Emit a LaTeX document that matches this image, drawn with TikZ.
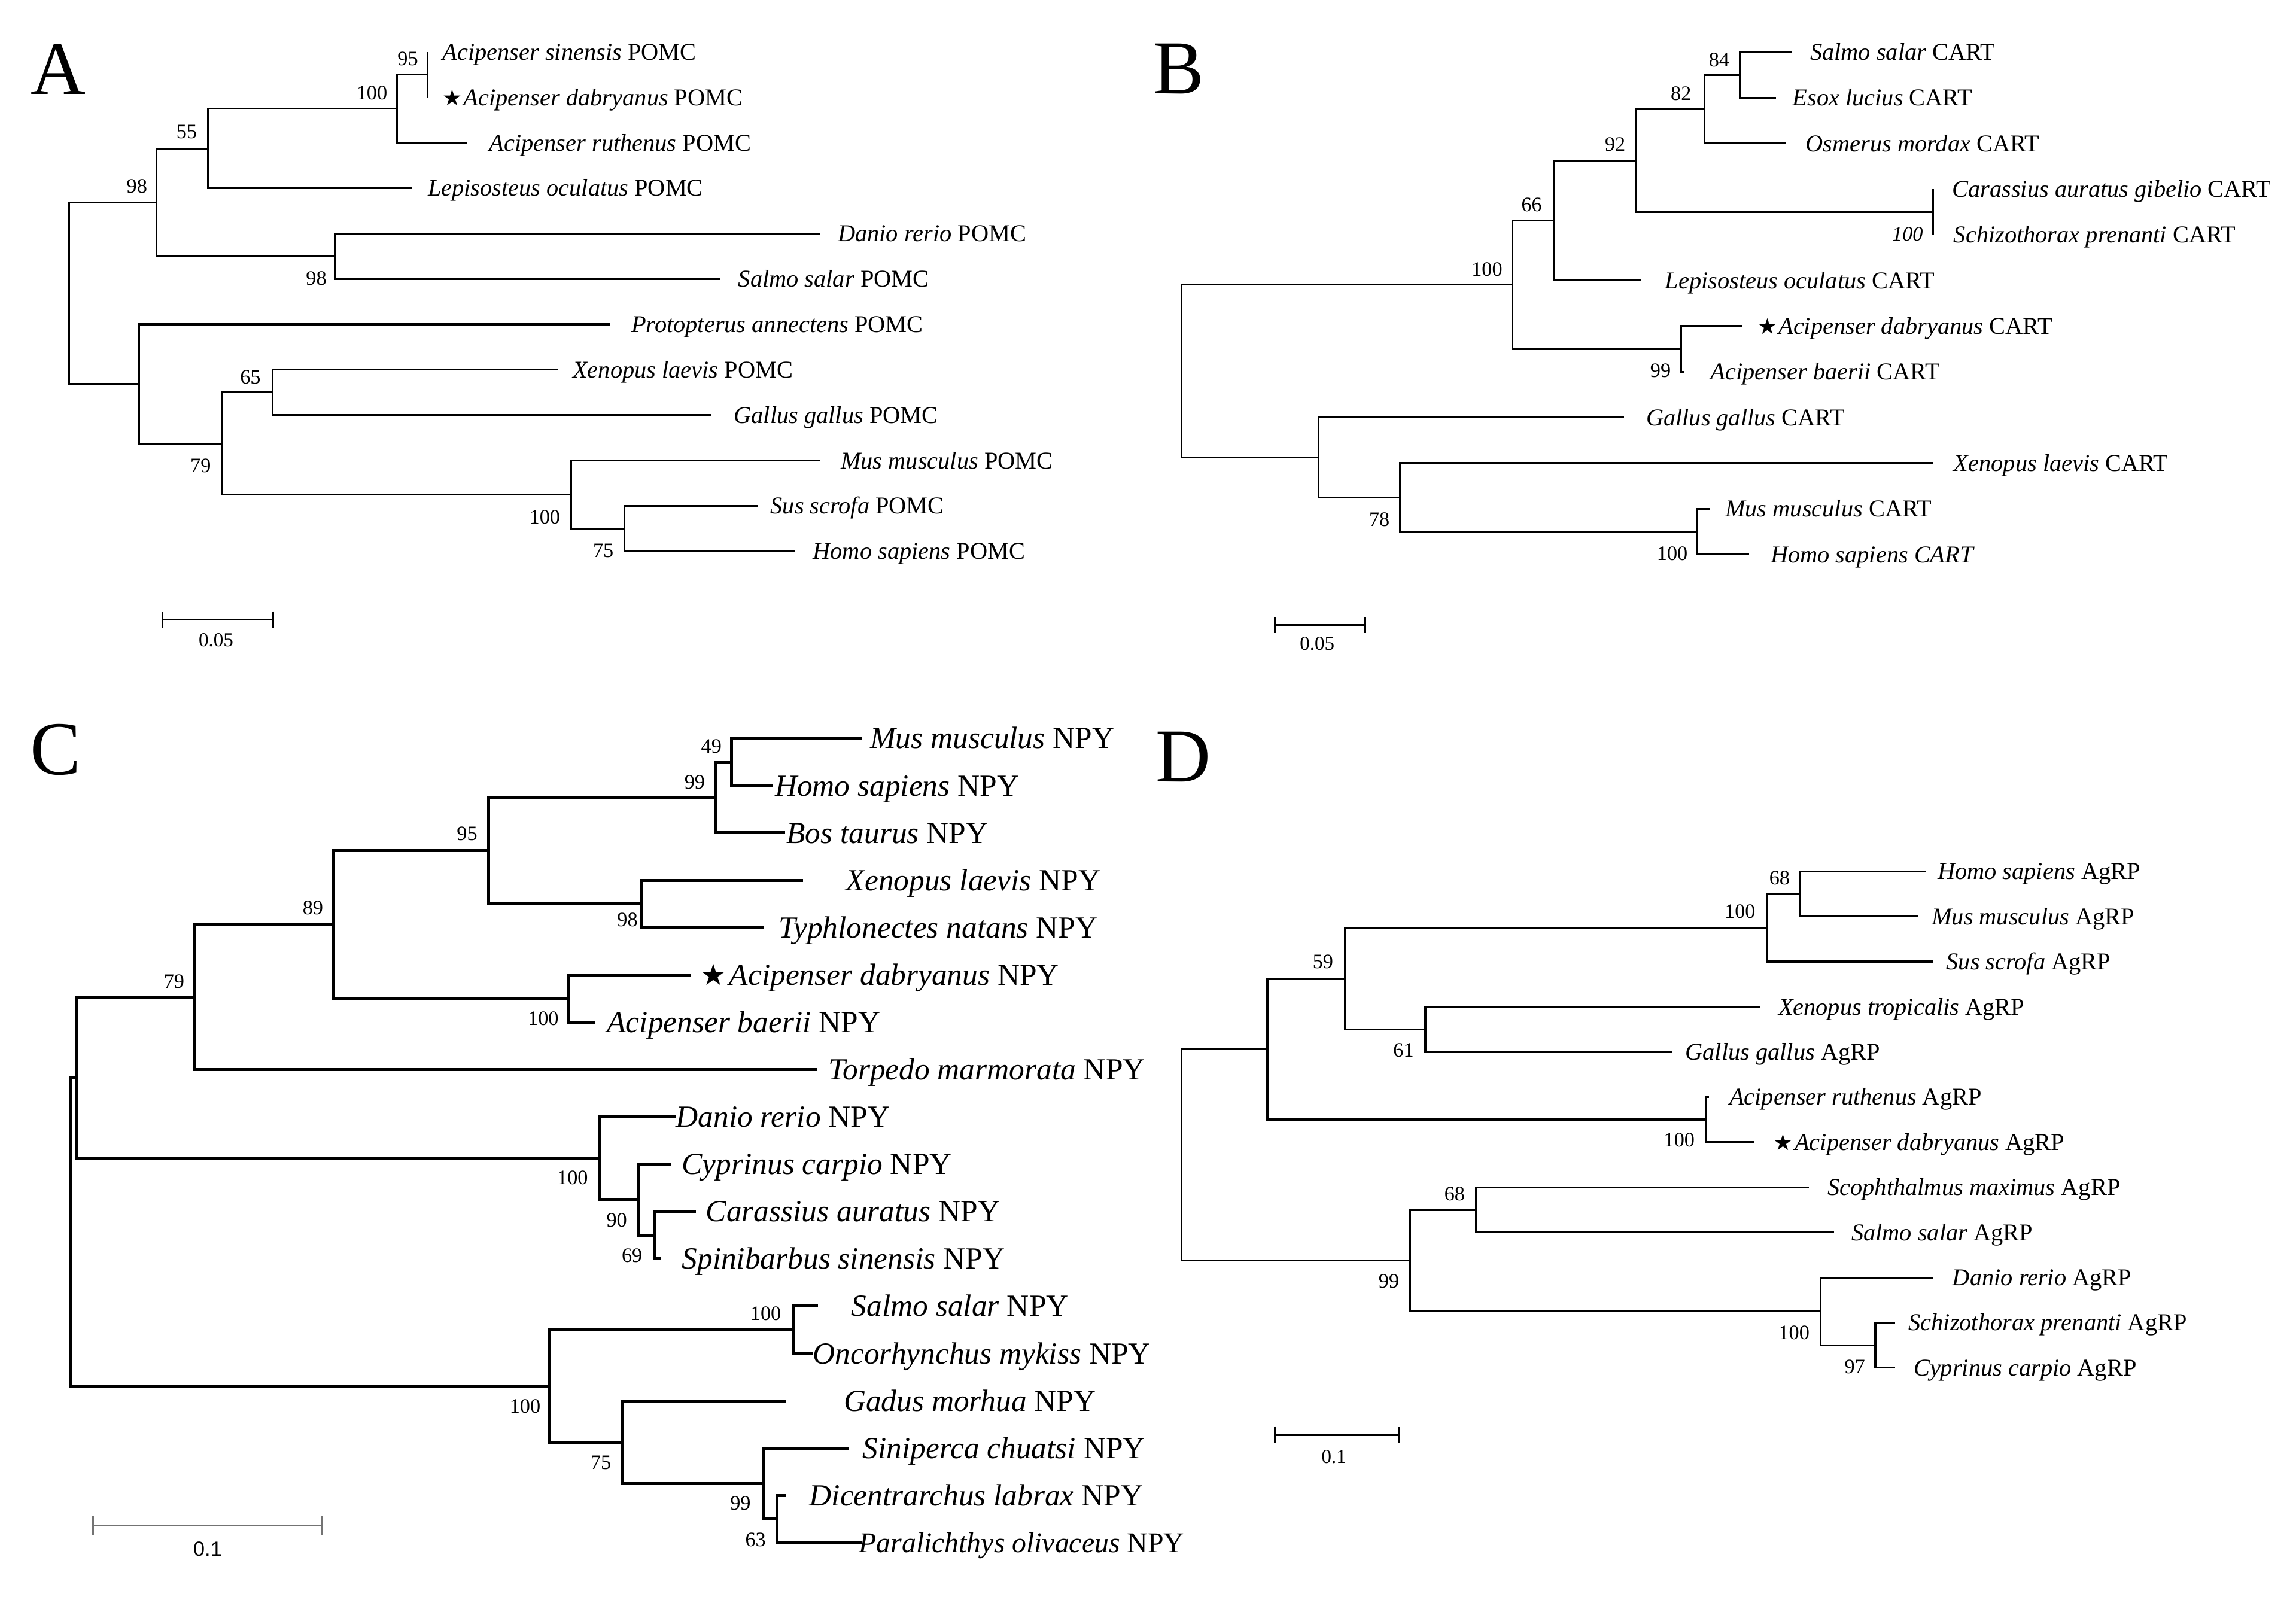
\documentclass[tikz,border=0pt]{standalone}
\usepackage{fontspec}
\setmainfont{Liberation Serif}
\newfontfamily\djv{DejaVu Sans}
\newfontfamily\lsans{Liberation Sans}
\newcommand{\mystar}[1]{{\djv\fontsize{#1}{#1}\selectfont ★}}
\begin{document}
\begin{tikzpicture}[x=1pt,y=-1pt,
 br/.style={line width=1.3pt},
 brc/.style={line width=2pt},
 leaf/.style={anchor=base west, inner sep=0pt, yshift=-5.5pt, font=\fontsize{16.5}{18}\selectfont},
 leafc/.style={anchor=base west, inner sep=0pt, yshift=-7pt, font=\fontsize{21}{24}\selectfont},
 bs/.style={inner sep=0pt, font=\fontsize{14}{16}\selectfont},
 panel/.style={inner sep=0pt, font=\fontsize{52}{56}\selectfont},
 sbar/.style={line width=1.3pt},
 sblab/.style={inner sep=0pt, font=\fontsize{13.5}{15}\selectfont}]
\useasboundingbox (0,0) rectangle (1568,1092.7);

% ================= Panel A =================
\node[panel] (pA) at (40,47) {A};
\coordinate (aSin) at (292,35.5);
\coordinate (aDab) at (292,66.5);
\coordinate (aRut) at (319,97.5);
\coordinate (aLep) at (281,128.5);
\coordinate (aDan) at (560,159.5);
\coordinate (aSal) at (492,190.5);
\coordinate (aPro) at (417,221.5);
\coordinate (aXen) at (381,252.5);
\coordinate (aGal) at (486,283.5);
\coordinate (aMus) at (560,314.5);
\coordinate (aSus) at (517.5,345.5);
\coordinate (aHom) at (542.5,376.5);
\coordinate (a95) at (292,51);
\coordinate (a100) at (271,74.25);
\coordinate (a55) at (142,101.4);
\coordinate (a98b) at (229,175);
\coordinate (a98) at (107,138.2);
\coordinate (a65) at (186,268);
\coordinate (a75) at (426.5,361);
\coordinate (a100b) at (390,337.75);
\coordinate (a79) at (151.5,302.9);
\coordinate (aL) at (95,262.2);
\coordinate (aR) at (47,200.2);
\draw[br] (aR) |- (a98) (aR) |- (aL)
 (a98) |- (a55) (a98) |- (a98b)
 (a55) |- (a100) (a55) |- (aLep)
 (a100) |- (a95) (a100) |- (aRut)
 (a95) |- (aSin) (a95) |- (aDab)
 (a98b) |- (aDan) (a98b) |- (aSal)
 (aL) |- (aPro) (aL) |- (a79)
 (a79) |- (a65) (a79) |- (a100b)
 (a65) |- (aXen) (a65) |- (aGal)
 (a100b) |- (aMus) (a100b) |- (a75)
 (a75) |- (aSus) (a75) |- (aHom);
\node[leaf] (laSin) at (302,35.5) {\textit{Acipenser sinensis} POMC};
\node[leaf] (laDab) at (302,66.5) {\mystar{15}\kern1pt\textit{Acipenser dabryanus} POMC};
\node[leaf] (laRut) at (334,97.5) {\textit{Acipenser ruthenus} POMC};
\node[leaf] (laLep) at (292,128.5) {\textit{Lepisosteus oculatus} POMC};
\node[leaf] (laDan) at (572,159.5) {\textit{Danio rerio} POMC};
\node[leaf] (laSal) at (504,190.5) {\textit{Salmo salar} POMC};
\node[leaf] (laPro) at (431,221.5) {\textit{Protopterus annectens} POMC};
\node[leaf] (laXen) at (391,252.5) {\textit{Xenopus laevis} POMC};
\node[leaf] (laGal) at (501,283.5) {\textit{Gallus gallus} POMC};
\node[leaf] (laMus) at (574,314.5) {\textit{Mus musculus} POMC};
\node[leaf] (laSus) at (526,345.5) {\textit{Sus scrofa} POMC};
\node[leaf] (laHom) at (555,376.5) {\textit{Homo sapiens} POMC};
\node[bs] (ba95) at (278.5,40) {95};
\node[bs] (ba100) at (254,63.5) {100};
\node[bs] (ba55) at (127.5,90) {55};
\node[bs] (ba98) at (93.5,127) {98};
\node[bs] (ba98b) at (216,190) {98};
\node[bs] (ba65) at (171,257.6) {65};
\node[bs] (ba79) at (137,318) {79};
\node[bs] (ba100b) at (372,353) {100};
\node[bs] (ba75) at (412,376) {75};
\coordinate (sA1) at (111,423);
\coordinate (sA2) at (186.5,423);
\draw[sbar] (sA1) -- (sA2);
\draw[sbar] ([yshift=5.5pt]sA1) -- ([yshift=-5.5pt]sA1);
\draw[sbar] ([yshift=5.5pt]sA2) -- ([yshift=-5.5pt]sA2);
\node[sblab] (slA) at (147.5,437) {0.05};

% ================= Panel B =================
\node[panel] (pB) at (805,47) {B};
\coordinate (bSal) at (1224,35.5);
\coordinate (bEso) at (1213,66.7);
\coordinate (bOsm) at (1220,97.9);
\coordinate (bCar) at (1320,129.1);
\coordinate (bSch) at (1320,160.3);
\coordinate (bLep) at (1121,191.5);
\coordinate (bDab) at (1190,222.7);
\coordinate (bBae) at (1150,253.9);
\coordinate (bGal) at (1109,285.1);
\coordinate (bXen) at (1320,316.3);
\coordinate (bMus) at (1168,347.5);
\coordinate (bHom) at (1194.3,378.7);
\coordinate (b84) at (1188,51.1);
\coordinate (b82) at (1164,74.5);
\coordinate (bCS) at (1320,144.7);
\coordinate (b92) at (1117,109.6);
\coordinate (b66) at (1061,150.55);
\coordinate (b99) at (1148,238.3);
\coordinate (b100) at (1033,194.4);
\coordinate (bM) at (1159,363.1);
\coordinate (b78) at (956,339.7);
\coordinate (bG) at (900.5,312.4);
\coordinate (bR) at (807,253.4);
\draw[br] (bR) |- (b100) (bR) |- (bG)
 (b100) |- (b66) (b100) |- (b99)
 (b66) |- (b92) (b66) |- (bLep)
 (b92) |- (b82) (b92) |- (bCS)
 (b82) |- (b84) (b82) |- (bOsm)
 (b84) |- (bSal) (b84) |- (bEso)
 (bCS) |- (bCar) (bCS) |- (bSch)
 (b99) |- (bDab) (b99) |- (bBae)
 (bG) |- (bGal) (bG) |- (b78)
 (b78) |- (bXen) (b78) |- (bM)
 (bM) |- (bMus) (bM) |- (bHom);
\node[leaf] (lbSal) at (1236,35.5) {\textit{Salmo salar} CART};
\node[leaf] (lbEso) at (1224,66.7) {\textit{Esox lucius} CART};
\node[leaf] (lbOsm) at (1233,97.9) {\textit{Osmerus mordax} CART};
\node[leaf] (lbCar) at (1333,129.1) {\textit{Carassius auratus gibelio} CART};
\node[leaf] (lbSch) at (1334,160.3) {\textit{Schizothorax prenanti} CART};
\node[leaf] (lbLep) at (1137,191.5) {\textit{Lepisosteus oculatus} CART};
\node[leaf] (lbDab) at (1200,222.7) {\mystar{15}\kern1pt\textit{Acipenser dabryanus} CART};
\node[leaf] (lbBae) at (1168,253.9) {\textit{Acipenser baerii} CART};
\node[leaf] (lbGal) at (1124,285.1) {\textit{Gallus gallus} CART};
\node[leaf] (lbXen) at (1334,316.3) {\textit{Xenopus laevis} CART};
\node[leaf] (lbMus) at (1178,347.5) {\textit{Mus musculus} CART};
\node[leaf] (lbHom) at (1209,378.7) {\textit{Homo sapiens CART}};
\node[bs] (bb84) at (1174,41) {84};
\node[bs] (bb82) at (1148,64) {82};
\node[bs] (bb92) at (1103,98.6) {92};
\node[bs] (bb66) at (1046,140) {66};
\node[bs] (bb100) at (1015.5,184) {100};
\node[bs] (bbCS) at (1302.7,160) {\textit{100}};
\node[bs] (bb99) at (1134,253) {99};
\node[bs] (bb78) at (942,354.7) {78};
\node[bs] (bbM) at (1142,378) {100};
\coordinate (sB1) at (870.5,427);
\coordinate (sB2) at (932,427);
\draw[sbar] (sB1) -- (sB2);
\draw[sbar] ([yshift=5.5pt]sB1) -- ([yshift=-5.5pt]sB1);
\draw[sbar] ([yshift=5.5pt]sB2) -- ([yshift=-5.5pt]sB2);
\node[sblab] (slB) at (899.5,439.7) {0.05};

% ================= Panel C =================
\node[panel] (pC) at (38,512) {C};
\coordinate (cMus) at (589,504.2);
\coordinate (cHom) at (527.6,536.5);
\coordinate (cBos) at (536,568.8);
\coordinate (cXen) at (548.4,601.2);
\coordinate (cTyp) at (521.3,633.5);
\coordinate (cDab) at (471.8,665.8);
\coordinate (cBae) at (406.6,698.1);
\coordinate (cTor) at (557.8,730.4);
\coordinate (cDan) at (461.4,762.8);
\coordinate (cCyp) at (458.7,795.1);
\coordinate (cCar) at (475.4,827.4);
\coordinate (cSpi) at (451,859.7);
\coordinate (cSal) at (558.8,892.0);
\coordinate (cOnc) at (555,924.4);
\coordinate (cGad) at (537,956.7);
\coordinate (cSin) at (579.7,989.0);
\coordinate (cDic) at (537,1021.3);
\coordinate (cPar) at (589,1053.6);
\coordinate (c49) at (499.4,520.35);
\coordinate (c99) at (488.5,544.6);
\coordinate (c98) at (438,617.35);
\coordinate (c95) at (333.6,581);
\coordinate (cA) at (388.4,682);
\coordinate (c89) at (227.8,631.5);
\coordinate (c79) at (133,681);
\coordinate (c69) at (446.8,843.55);
\coordinate (c90) at (436.3,819.3);
\coordinate (c100a) at (409.2,791);
\coordinate (cX) at (52,736);
\coordinate (cS) at (542.2,908.2);
\coordinate (c63) at (530.7,1037.45);
\coordinate (c99b) at (521.3,1013.2);
\coordinate (c75) at (424.9,985);
\coordinate (c100b) at (375.3,946.6);
\coordinate (cR) at (48,841.3);
\draw[brc] (cR) |- (cX) (cR) |- (c100b)
 (cX) |- (c79) (cX) |- (c100a)
 (c79) |- (c89) (c79) |- (cTor)
 (c89) |- (c95) (c89) |- (cA)
 (c95) |- (c99) (c95) |- (c98)
 (c99) |- (c49) (c99) |- (cBos)
 (c49) |- (cMus) (c49) |- (cHom)
 (c98) |- (cXen) (c98) |- (cTyp)
 (cA) |- (cDab) (cA) |- (cBae)
 (c100a) |- (cDan) (c100a) |- (c90)
 (c90) |- (cCyp) (c90) |- (c69)
 (c69) |- (cCar) (c69) |- (cSpi)
 (c100b) |- (cS) (c100b) |- (c75)
 (cS) |- (cSal) (cS) |- (cOnc)
 (c75) |- (cGad) (c75) |- (c99b)
 (c99b) |- (cSin) (c99b) |- (c63)
 (c63) |- (cDic) (c63) |- (cPar);
\node[leafc] (lcMus) at (594,504.2) {\textit{Mus musculus} NPY};
\node[leafc] (lcHom) at (529,536.5) {\textit{Homo sapiens} NPY};
\node[leafc] (lcBos) at (537,568.8) {\textit{Bos taurus} NPY};
\node[leafc] (lcXen) at (577.6,601.2) {\textit{Xenopus laevis} NPY};
\node[leafc] (lcTyp) at (531.7,633.5) {\textit{Typhlonectes natans} NPY};
\node[leafc] (lcDab) at (478,665.8) {\mystar{20}\kern2pt\textit{Acipenser dabryanus} NPY};
\node[leafc] (lcBae) at (414.4,698.1) {\textit{Acipenser baerii} NPY};
\node[leafc] (lcTor) at (565.6,730.4) {\textit{Torpedo marmorata} NPY};
\node[leafc] (lcDan) at (461.4,762.8) {\textit{Danio rerio} NPY};
\node[leafc] (lcCyp) at (465.5,795.1) {\textit{Cyprinus carpio} NPY};
\node[leafc] (lcCar) at (482,827.4) {\textit{Carassius auratus} NPY};
\node[leafc] (lcSpi) at (465.5,859.7) {\textit{Spinibarbus sinensis} NPY};
\node[leafc] (lcSal) at (581.3,892.0) {\textit{Salmo salar} NPY};
\node[leafc] (lcOnc) at (555,924.4) {\textit{Oncorhynchus mykiss} NPY};
\node[leafc] (lcGad) at (576,956.7) {\textit{Gadus morhua} NPY};
\node[leafc] (lcSin) at (589,989.0) {\textit{Siniperca chuatsi} NPY};
\node[leafc] (lcDic) at (552.6,1021.3) {\textit{Dicentrarchus labrax} NPY};
\node[leafc, font=\fontsize{19.5}{22}\selectfont, yshift=0.5pt] (lcPar) at (586.5,1053.6) {\textit{Paralichthys olivaceus} NPY};
\node[bs] (bc49) at (485.8,509.7) {49};
\node[bs] (bc99) at (474.4,534.3) {99};
\node[bs] (bc95) at (319,569.3) {95};
\node[bs] (bc98) at (428.5,628.2) {98};
\node[bs] (bc89) at (213.7,620) {89};
\node[bs] (bc79) at (118.9,670.2) {79};
\node[bs] (bcA) at (371,695.7) {100};
\node[bs] (bc100a) at (391,804.3) {100};
\node[bs] (bc90) at (421.2,833.4) {90};
\node[bs] (bc69) at (431.6,857.4) {69};
\node[bs] (bcS) at (522.9,897) {100};
\node[bs] (bc100b) at (358.6,960.4) {100};
\node[bs] (bc75) at (410.3,998.8) {75};
\node[bs] (bc99b) at (505.7,1026.8) {99};
\node[bs] (bc63) at (516,1051.7) {63};
\coordinate (sC1) at (63.6,1042);
\coordinate (sC2) at (220,1042);
\draw[line width=1pt, black!55] (sC1) -- (sC2)
 ([yshift=6.5pt]sC1) -- ([yshift=-6pt]sC1)
 ([yshift=6.5pt]sC2) -- ([yshift=-6pt]sC2);
\node[inner sep=0pt, font=\lsans\fontsize{14}{16}\selectfont] (slC) at (141.8,1058) {0.1};

% ================= Panel D =================
\node[panel] (pD) at (808,517) {D};
\coordinate (dHom) at (1315.2,595.1);
\coordinate (dMus) at (1310.2,625.9);
\coordinate (dSus) at (1320.2,656.7);
\coordinate (dXen) at (1201.8,687.6);
\coordinate (dGal) at (1141.8,718.4);
\coordinate (dRut) at (1167,749.2);
\coordinate (dDab) at (1197.8,780.0);
\coordinate (dSco) at (1235.2,810.8);
\coordinate (dSal) at (1252.7,841.7);
\coordinate (dDan) at (1320.2,872.5);
\coordinate (dSch) at (1294.2,903.3);
\coordinate (dCyp) at (1294.2,934.1);
\coordinate (d68) at (1229.2,610.5);
\coordinate (d100) at (1206.8,633.6);
\coordinate (d61) at (973.4,703);
\coordinate (d59) at (918.5,668.3);
\coordinate (dA) at (1165.3,764.6);
\coordinate (dU) at (865.5,716.45);
\coordinate (d68b) at (1007.9,826.25);
\coordinate (d97) at (1280.7,918.7);
\coordinate (d100b) at (1243.2,895.6);
\coordinate (d99) at (963,860.9);
\coordinate (dR) at (807,788.7);
\draw[br] (dR) |- (dU) (dR) |- (d99)
 (dU) |- (d59) (dU) |- (dA)
 (d59) |- (d100) (d59) |- (d61)
 (d100) |- (d68) (d100) |- (dSus)
 (d68) |- (dHom) (d68) |- (dMus)
 (d61) |- (dXen) (d61) |- (dGal)
 (dA) |- (dRut) (dA) |- (dDab)
 (d99) |- (d68b) (d99) |- (d100b)
 (d68b) |- (dSco) (d68b) |- (dSal)
 (d100b) |- (dDan) (d100b) |- (d97)
 (d97) |- (dSch) (d97) |- (dCyp);
\node[leaf] (ldHom) at (1323,595.1) {\textit{Homo sapiens} AgRP};
\node[leaf] (ldMus) at (1319,625.9) {\textit{Mus musculus} AgRP};
\node[leaf] (ldSus) at (1329,656.7) {\textit{Sus scrofa} AgRP};
\node[leaf] (ldXen) at (1214.3,687.6) {\textit{Xenopus tropicalis} AgRP};
\node[leaf] (ldGal) at (1150.8,718.4) {\textit{Gallus gallus} AgRP};
\node[leaf] (ldRut) at (1180.8,749.2) {\textit{Acipenser ruthenus} AgRP};
\node[leaf] (ldDab) at (1211,780.0) {\mystar{15}\kern1pt\textit{Acipenser dabryanus} AgRP};
\node[leaf] (ldSco) at (1248,810.8) {\textit{Scophthalmus maximus} AgRP};
\node[leaf] (ldSal) at (1264.2,841.7) {\textit{Salmo salar} AgRP};
\node[leaf] (ldDan) at (1333.2,872.5) {\textit{Danio rerio} AgRP};
\node[leaf] (ldSch) at (1303.2,903.3) {\textit{Schizothorax prenanti} AgRP};
\node[leaf] (ldCyp) at (1306.7,934.1) {\textit{Cyprinus carpio} AgRP};
\node[bs] (bd68) at (1215.3,599.7) {68};
\node[bs] (bd100) at (1188.3,622.5) {100};
\node[bs] (bd59) at (903.5,656.8) {59};
\node[bs] (bd61) at (958.5,717.4) {61};
\node[bs] (bdA) at (1146.8,778.5) {100};
\node[bs] (bd68b) at (993.4,815.2) {68};
\node[bs] (bd99) at (948.5,874.9) {99};
\node[bs] (bd100b) at (1225.2,910) {100};
\node[bs] (bd97) at (1266.7,933.3) {97};
\coordinate (sD1) at (870.5,980);
\coordinate (sD2) at (955.5,980);
\draw[sbar] (sD1) -- (sD2);
\draw[sbar] ([yshift=5.5pt]sD1) -- ([yshift=-5.5pt]sD1);
\draw[sbar] ([yshift=5.5pt]sD2) -- ([yshift=-5.5pt]sD2);
\node[sblab] (slD) at (911,995) {0.1};
\end{tikzpicture}
\end{document}
